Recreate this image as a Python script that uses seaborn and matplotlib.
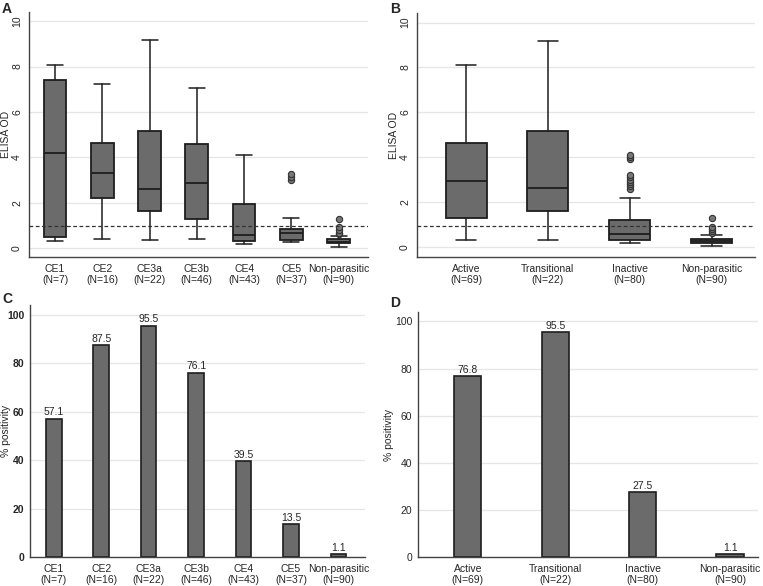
import matplotlib
matplotlib.use("Agg")
import matplotlib.pyplot as plt
import seaborn as sns
import pandas as pd

# ---------------- data ----------------
cats_a = ["CE1\n(N=7)", "CE2\n(N=16)", "CE3a\n(N=22)", "CE3b\n(N=46)",
          "CE4\n(N=43)", "CE5\n(N=37)", "Non-parasitic\n(N=90)"]
a_whislo = [0.34, 0.40, 0.37, 0.40, 0.21, 0.28, 0.06]
a_q1 = [0.51, 2.23, 1.66, 1.30, 0.34, 0.37, 0.22]
a_med = [4.21, 3.33, 2.62, 2.89, 0.57, 0.66, 0.29]
a_q3 = [7.40, 4.62, 5.18, 4.60, 1.96, 0.85, 0.40]
a_whishi = [8.09, 7.23, 9.19, 7.05, 4.12, 1.33, 0.54]
a_fliers = [[], [], [], [], [], [3.0, 3.15, 3.27], [0.62, 0.68, 0.8, 0.95, 1.28]]
cutoff_a = 0.98

cats_b = ["Active\n(N=69)", "Transitional\n(N=22)", "Inactive\n(N=80)", "Non-parasitic\n(N=90)"]
b_whislo = [0.31, 0.31, 0.16, 0.03]
b_q1 = [1.28, 1.60, 0.31, 0.19]
b_med = [2.93, 2.63, 0.58, 0.27]
b_q3 = [4.65, 5.19, 1.19, 0.37]
b_whishi = [8.10, 9.18, 2.17, 0.52]
b_fliers = [[], [], [2.6, 2.7, 2.8, 2.9, 3.0, 3.1, 3.2, 3.9, 4.0, 4.1],
            [0.6, 0.7, 0.8, 0.9, 1.27]]
cutoff_b = 0.92

cats_c = cats_a
pos_c = [57.1, 87.5, 95.5, 76.1, 39.5, 13.5, 1.1]
cats_d = cats_b
pos_d = [76.8, 95.5, 27.5, 1.1]

# ---------------- style ----------------
sns.set_theme(style="white")
plt.rcParams["font.family"] = ["Liberation Sans", "DejaVu Sans"]
FS = 7.5
BOXC = "#6b6b6b"
EDGE = "#1e1e1e"
GRIDC = "#e6e6e6"

W, H = 763, 586
fig = plt.figure(figsize=(W / 100, H / 100), dpi=100)


def px_axes(l, t, r, b):
    return fig.add_axes([l / W, (H - b) / H, (r - l) / W, (b - t) / H])


def style_axes(ax, ytick_len):
    for s in ["top", "right"]:
        ax.spines[s].set_visible(False)
    for s in ["left", "bottom"]:
        ax.spines[s].set_color("#444444")
        ax.spines[s].set_linewidth(1.0)
    ax.yaxis.grid(True, color=GRIDC, linewidth=0.9)
    ax.set_axisbelow(True)
    ax.tick_params(axis="y", length=ytick_len, width=0.8, color="#444444",
                   labelsize=FS, pad=2 if ytick_len else 4, direction="out")
    ax.tick_params(axis="x", length=0, pad=5, labelsize=FS)


def draw_box(ax, cats, lo, q1, med, q3, hi, fl, width, capw, cutoff, xlim, ylim):
    stats = []
    for i, c in enumerate(cats):
        stats.append(dict(label=c, whislo=lo[i], q1=q1[i], med=med[i], q3=q3[i],
                          whishi=hi[i], fliers=fl[i]))
    ax.bxp(stats, positions=list(range(len(cats))), widths=width, patch_artist=True,
           capwidths=capw,
           boxprops=dict(facecolor=BOXC, edgecolor=EDGE, linewidth=1.3),
           medianprops=dict(color=EDGE, linewidth=1.3),
           whiskerprops=dict(color=EDGE, linewidth=1.1),
           capprops=dict(color=EDGE, linewidth=1.1),
           flierprops=dict(marker="o", markerfacecolor="#777777",
                           markeredgecolor="#333333", markersize=4.5,
                           markeredgewidth=0.8))
    ax.axhline(cutoff, color="#333333", linestyle=(0, (3, 2)), linewidth=0.9, zorder=5)
    ax.set_xlim(*xlim)
    ax.set_ylim(*ylim)
    ax.set_yticks([0, 2, 4, 6, 8, 10])
    ax.set_yticklabels(["0", "2", "4", "6", "8", "10"], rotation=90, va="center")
    ax.set_ylabel("ELISA OD", fontsize=FS, labelpad=1)
    ax.set_xlabel("")
    style_axes(ax, 3)
    ax.set_xticks(range(len(cats)))
    ax.set_xticklabels(cats, fontsize=FS, linespacing=1.1)


def draw_bar(ax, cats, vals, width, xlim, bold_ticks=False):
    df = pd.DataFrame({"cat": cats, "val": vals})
    sns.barplot(data=df, x="cat", y="val", ax=ax, color=BOXC, width=width,
                edgecolor=EDGE, linewidth=1.2, saturation=1)
    for p in ax.patches:
        p.set_facecolor(BOXC)
    for c in ax.containers:
        ax.bar_label(c, labels=[f"{v:.1f}" for v in vals], fontsize=FS, padding=1)
    ax.set_xlim(*xlim)
    ax.set_ylim(0, 104)
    ax.set_yticks([0, 20, 40, 60, 80, 100])
    ax.set_ylabel("% positivity", fontsize=FS, labelpad=1)
    ax.set_xlabel("")
    style_axes(ax, 0)
    ax.set_xticks(range(len(cats)))
    ax.set_xticklabels(cats, fontsize=FS, linespacing=1.1)
    if bold_ticks:
        for t in ax.get_yticklabels():
            t.set_fontweight("bold")


axA = px_axes(29, 12, 368, 257)
draw_box(axA, cats_a, a_whislo, a_q1, a_med, a_q3, a_whishi, a_fliers,
         0.48, 0.34, cutoff_a, (-0.55, 6.62), (-0.38, 10.4))

axB = px_axes(417, 13, 755, 257)
draw_box(axB, cats_b, b_whislo, b_q1, b_med, b_q3, b_whishi, b_fliers,
         0.5, 0.25, cutoff_b, (-0.6, 3.53), (-0.45, 10.43))

axC = px_axes(30, 305, 365, 557)
draw_bar(axC, cats_c, pos_c, 0.33, (-0.5, 6.56), bold_ticks=True)
axC.yaxis.set_label_coords(-19 / 335, 0.5)

axD = px_axes(418, 312, 758, 557)
draw_bar(axD, cats_d, pos_d, 0.31, (-0.57, 3.32))

for lab, x, y in [("A", 2, 2), ("B", 390, 2), ("C", 2, 292), ("D", 390, 296)]:
    fig.text(x / W, 1 - y / H, lab, fontsize=10, fontweight="bold", va="top", ha="left")

fig.savefig("out.png", dpi=100)
